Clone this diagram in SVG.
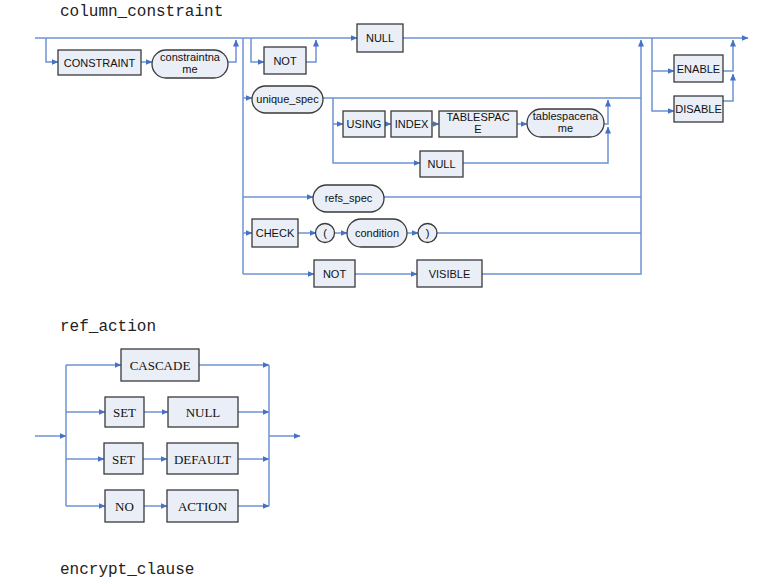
<svg xmlns="http://www.w3.org/2000/svg" width="758" height="584" viewBox="0 0 758 584">
<defs>
<marker id="ar" markerWidth="7" markerHeight="6" refX="6.5" refY="3" orient="auto" markerUnits="userSpaceOnUse">
<path d="M0,0 L7,3 L0,6 Z" fill="#4472C4"/>
</marker>
<style>
.t{font-family:"Liberation Mono",monospace;font-size:16px;fill:#222}
.b{fill:#E9EEF7;stroke:#3a3a3a;stroke-width:1.3}
.s{font-family:"Liberation Sans",Arial,sans-serif;font-size:11px;fill:#111;text-anchor:middle}
.r{font-family:"Liberation Serif","Times New Roman",serif;font-size:13px;fill:#111;text-anchor:middle}
.c path{fill:none;stroke:#6D93D4;stroke-width:1.5}
</style>
</defs>
<rect width="758" height="584" fill="#fff"/>
<text class="t" x="60" y="16">column_constraint</text>
<text class="t" x="60" y="331">ref_action</text>
<text class="t" x="60" y="574">encrypt_clause</text>

<g id="connectors" class="c">
<path d="M35,38 H357" marker-end="url(#ar)"/>
<path d="M403,38 H748" marker-end="url(#ar)"/>
<path d="M46,38 V62 H58" marker-end="url(#ar)"/>
<path d="M141,62 H152" marker-end="url(#ar)"/>
<path d="M228,62 H236 V40" marker-end="url(#ar)"/>
<path d="M251,38 V62 H264" marker-end="url(#ar)"/>
<path d="M306,62 H316 V40" marker-end="url(#ar)"/>
<path d="M243,38 V274"/>
<path d="M243,98 H252" marker-end="url(#ar)"/>
<path d="M323,98 H641"/>
<path d="M333,98 V163 H420" marker-end="url(#ar)"/>
<path d="M333,124 H343" marker-end="url(#ar)"/>
<path d="M385,124 H391" marker-end="url(#ar)"/>
<path d="M432,124 H439" marker-end="url(#ar)"/>
<path d="M517,124 H527" marker-end="url(#ar)"/>
<path d="M463,163 H608 V127" marker-end="url(#ar)"/>
<path d="M604,124 H608 V100" marker-end="url(#ar)"/>
<path d="M243,197 H313" marker-end="url(#ar)"/>
<path d="M384,197 H641"/>
<path d="M243,233 H252" marker-end="url(#ar)"/>
<path d="M298,233 H316" marker-end="url(#ar)"/>
<path d="M334,233 H347" marker-end="url(#ar)"/>
<path d="M407,233 H418" marker-end="url(#ar)"/>
<path d="M437,233 H641"/>
<path d="M243,274 H314" marker-end="url(#ar)"/>
<path d="M355,274 H417" marker-end="url(#ar)"/>
<path d="M482,274 H641 V40" marker-end="url(#ar)"/>
<path d="M652,38 V111 H674" marker-end="url(#ar)"/>
<path d="M652,71 H674" marker-end="url(#ar)"/>
<path d="M723,101 H733 V74" marker-end="url(#ar)"/>
<path d="M723,71 H733 V40" marker-end="url(#ar)"/>

<path d="M35,436 H66" marker-end="url(#ar)"/>
<path d="M66,365 V506"/>
<path d="M66,365 H121" marker-end="url(#ar)"/>
<path d="M66,412 H105" marker-end="url(#ar)"/>
<path d="M66,459 H104" marker-end="url(#ar)"/>
<path d="M66,506 H105" marker-end="url(#ar)"/>
<path d="M144,412 H168" marker-end="url(#ar)"/>
<path d="M143,459 H167" marker-end="url(#ar)"/>
<path d="M144,506 H167" marker-end="url(#ar)"/>
<path d="M199,365 H269" marker-end="url(#ar)"/>
<path d="M238,412 H269" marker-end="url(#ar)"/>
<path d="M238,459 H269" marker-end="url(#ar)"/>
<path d="M238,506 H269" marker-end="url(#ar)"/>
<path d="M269,365 V506"/>
<path d="M269,436 H300" marker-end="url(#ar)"/>
</g>

<g id="n_constraint"><rect class="b" x="58" y="50" width="83" height="25"/><text class="s" x="99.5" y="66.5">CONSTRAINT</text></g>
<g id="n_constraintname"><rect class="b" x="152" y="50" width="76" height="28" rx="14"/><text class="s" x="190" y="61">constraintna</text><text class="s" x="190" y="73">me</text></g>
<g id="n_not1"><rect class="b" x="264" y="47" width="42" height="27"/><text class="s" x="285" y="64.5">NOT</text></g>
<g id="n_null1"><rect class="b" x="357" y="24" width="46" height="28"/><text class="s" x="380" y="42">NULL</text></g>
<g id="n_unique_spec"><rect class="b" x="252" y="86" width="71" height="27" rx="13.5"/><text class="s" x="287.5" y="103">unique_spec</text></g>
<g id="n_using"><rect class="b" x="343" y="111" width="42" height="26"/><text class="s" x="364" y="128">USING</text></g>
<g id="n_index"><rect class="b" x="391" y="111" width="41" height="26"/><text class="s" x="411.5" y="128">INDEX</text></g>
<g id="n_tablespace"><rect class="b" x="439" y="111" width="78" height="26"/><text class="s" x="478" y="121">TABLESPAC</text><text class="s" x="478" y="133">E</text></g>
<g id="n_tablespacename"><rect class="b" x="527" y="109" width="77" height="28" rx="14"/><text class="s" x="565.5" y="120">tablespacena</text><text class="s" x="565.5" y="132">me</text></g>
<g id="n_null2"><rect class="b" x="420" y="151" width="43" height="26"/><text class="s" x="441.5" y="168">NULL</text></g>
<g id="n_refs_spec"><rect class="b" x="313" y="185" width="71" height="27" rx="13.5"/><text class="s" x="348.5" y="202">refs_spec</text></g>
<g id="n_check"><rect class="b" x="252" y="219" width="46" height="28"/><text class="s" x="275" y="237">CHECK</text></g>
<g id="n_lparen"><circle class="b" cx="325" cy="233" r="9.5"/><text class="s" x="325" y="237">(</text></g>
<g id="n_condition"><rect class="b" x="347" y="219" width="60" height="28" rx="14"/><text class="s" x="377" y="237">condition</text></g>
<g id="n_rparen"><circle class="b" cx="427.5" cy="233" r="9.5"/><text class="s" x="427.5" y="237">)</text></g>
<g id="n_not2"><rect class="b" x="314" y="260" width="41" height="27"/><text class="s" x="334.5" y="277.5">NOT</text></g>
<g id="n_visible"><rect class="b" x="417" y="260" width="65" height="27"/><text class="s" x="449.5" y="278">VISIBLE</text></g>
<g id="n_enable"><rect class="b" x="674" y="55" width="49" height="27"/><text class="s" x="698.5" y="72.5">ENABLE</text></g>
<g id="n_disable"><rect class="b" x="674" y="96" width="49" height="26"/><text class="s" x="698.5" y="113">DISABLE</text></g>

<g id="n_cascade"><rect class="b" x="121" y="349" width="78" height="32"/><text class="r" x="160" y="369.5">CASCADE</text></g>
<g id="n_set1"><rect class="b" x="105" y="397" width="39" height="30"/><text class="r" x="124.5" y="416.5">SET</text></g>
<g id="n_null3"><rect class="b" x="168" y="397" width="70" height="30"/><text class="r" x="203" y="416.5">NULL</text></g>
<g id="n_set2"><rect class="b" x="104" y="443" width="39" height="31"/><text class="r" x="123.5" y="463.5">SET</text></g>
<g id="n_default"><rect class="b" x="167" y="443" width="71" height="31"/><text class="r" x="202.5" y="463.5">DEFAULT</text></g>
<g id="n_no"><rect class="b" x="105" y="490" width="39" height="32"/><text class="r" x="124.5" y="510.5">NO</text></g>
<g id="n_action"><rect class="b" x="167" y="490" width="71" height="32"/><text class="r" x="202.5" y="510.5">ACTION</text></g>
</svg>
